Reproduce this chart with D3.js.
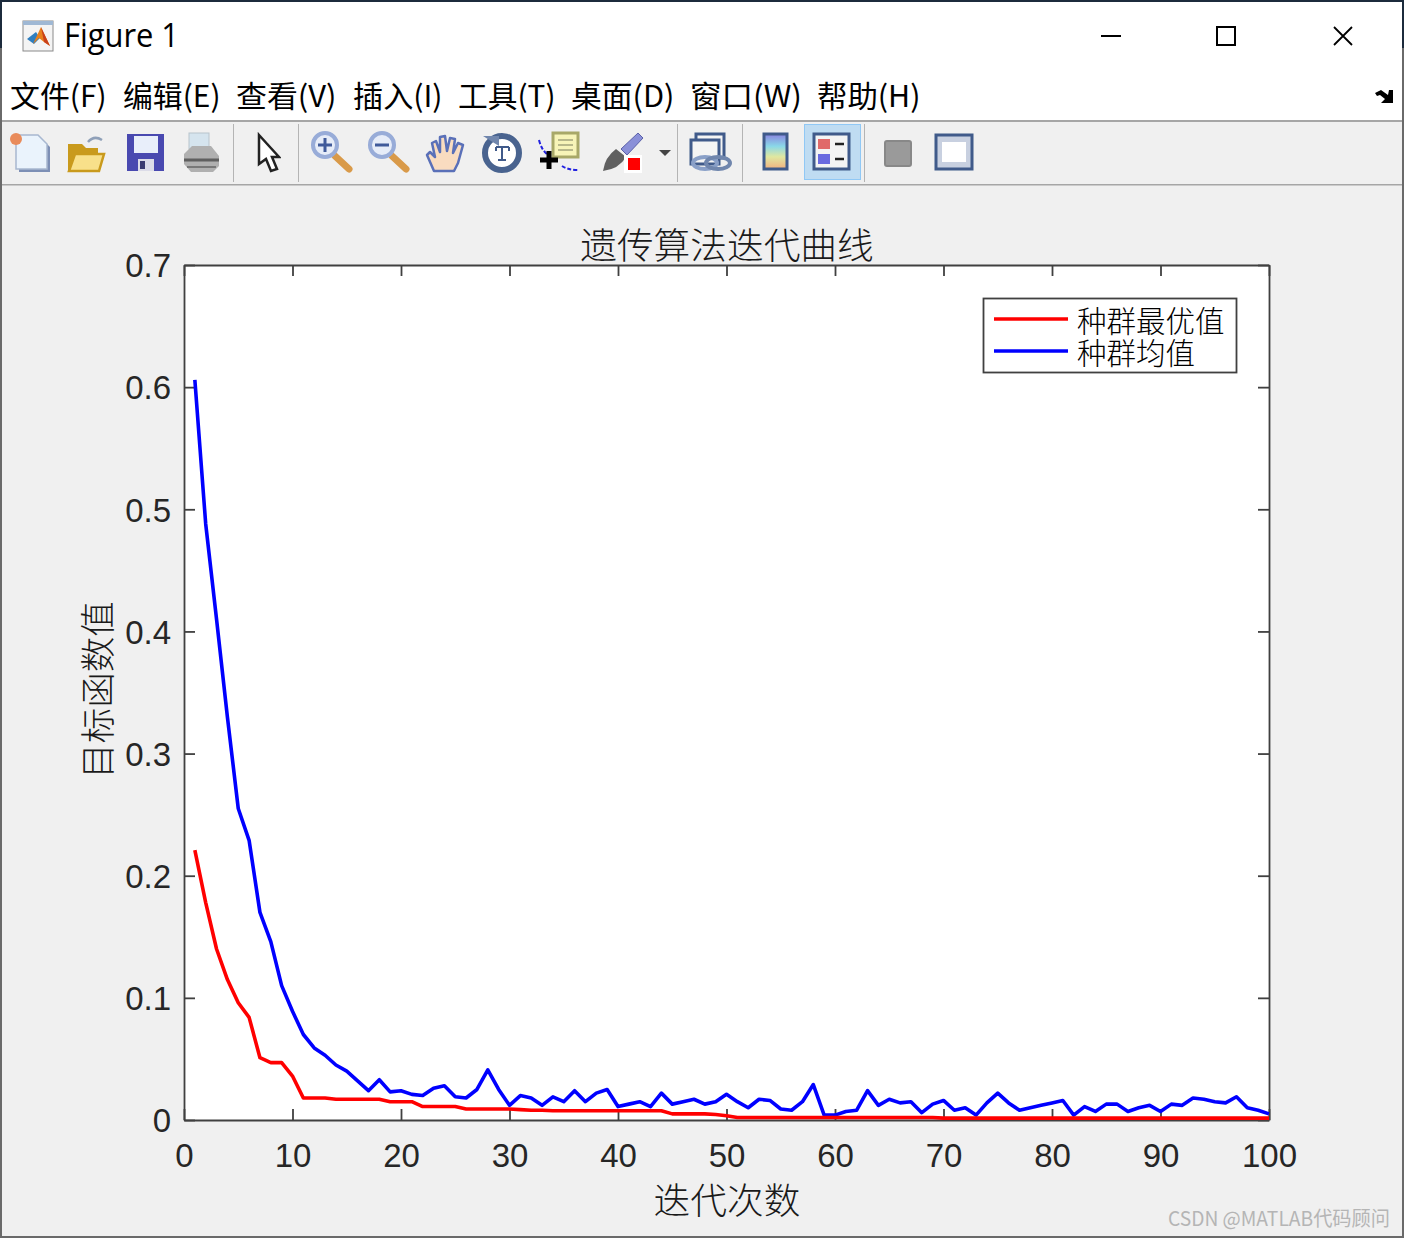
<!DOCTYPE html>
<html>
<head>
<meta charset="utf-8">
<script src="https://cdn.jsdelivr.net/npm/d3@7"></script>
<style>
  html, body { margin: 0; padding: 0; background: #fff; }
  svg { display: block; }
  .cjk { font-family: "Noto Sans CJK SC", sans-serif; }
  .axis text { font-family: "Liberation Sans", Arial, sans-serif; font-size: 33px; fill: #262626; }
</style>
</head>
<body>
<div id="chart"></div>
<script>
// data
const iterations = d3.range(1, 101);
const bestValues = [
  0.221, 0.178, 0.140, 0.115, 0.096, 0.084, 0.051, 0.047, 0.047, 0.036,
  0.018, 0.018, 0.018, 0.017, 0.017, 0.017, 0.017, 0.017, 0.015, 0.015,
  0.015, 0.011, 0.011, 0.011, 0.011, 0.009, 0.009, 0.009, 0.009, 0.009,
  0.0085, 0.008, 0.008, 0.0076, 0.0076, 0.0076, 0.0076, 0.0076, 0.0076, 0.0076,
  0.0076, 0.0076, 0.0076, 0.0076, 0.005, 0.005, 0.005, 0.005, 0.0045, 0.0035,
  0.002, 0.002, 0.002, 0.002, 0.002, 0.002, 0.002, 0.002, 0.002, 0.002,
  0.002, 0.002, 0.002, 0.002, 0.002, 0.002, 0.002, 0.002, 0.002, 0.0015,
  0.0015, 0.0015, 0.0015, 0.0015, 0.0015, 0.0015, 0.0015, 0.0015, 0.0015, 0.0015,
  0.0015, 0.0015, 0.0015, 0.0015, 0.0015, 0.0015, 0.0015, 0.0015, 0.0015, 0.0015,
  0.0015, 0.0015, 0.0015, 0.0015, 0.0015, 0.0015, 0.0015, 0.0015, 0.0015, 0.0015
];
const meanValues = [
  0.606, 0.488, 0.410, 0.330, 0.255, 0.229, 0.170, 0.146, 0.110, 0.089,
  0.070, 0.059, 0.053, 0.045, 0.040, 0.032, 0.024, 0.033, 0.023, 0.024,
  0.021, 0.020, 0.026, 0.028, 0.019, 0.018, 0.025, 0.041, 0.025, 0.012,
  0.020, 0.018, 0.012, 0.019, 0.015, 0.024, 0.015, 0.022, 0.025, 0.011,
  0.013, 0.015, 0.011, 0.022, 0.013, 0.015, 0.017, 0.013, 0.015, 0.021,
  0.015, 0.010, 0.017, 0.016, 0.009, 0.008, 0.015, 0.029, 0.004, 0.004,
  0.007, 0.008, 0.024, 0.012, 0.017, 0.014, 0.015, 0.006, 0.013, 0.016,
  0.008, 0.010, 0.004, 0.014, 0.022, 0.014, 0.008, 0.010, 0.012, 0.014,
  0.016, 0.004, 0.011, 0.007, 0.013, 0.013, 0.007, 0.010, 0.012, 0.007,
  0.013, 0.012, 0.018, 0.017, 0.015, 0.014, 0.019, 0.010, 0.008, 0.005
];
const xTicks = d3.range(0, 101, 10);
const yTicks = [0, 0.1, 0.2, 0.3, 0.4, 0.5, 0.6, 0.7];
const legendLabels = ["种群最优值", "种群均值"];
const seriesColors = ["#ff0000", "#0000ff"];
const menuLabels = ["文件(F)", "编辑(E)", "查看(V)", "插入(I)", "工具(T)", "桌面(D)", "窗口(W)", "帮助(H)"];
const menuStarts = [10, 123, 236, 353, 458, 571, 690, 817];
const menuWidths = [96.5, 97.5, 100.5, 89.5, 97.5, 103.5, 112, 103.5];

const svg = d3.select("#chart").append("svg").attr("width", 1404).attr("height", 1238);

// soft edge for the toolbar bitmaps
svg.append("defs").append("filter").attr("id", "soft")
  .attr("x", "-10%").attr("y", "-10%").attr("width", "120%").attr("height", "120%")
  .append("feGaussianBlur").attr("stdDeviation", 0.6);

// window chrome
svg.append("rect").attr("width", 1404).attr("height", 1238).attr("fill", "#f0f0f0");
svg.append("rect").attr("width", 1404).attr("height", 120).attr("fill", "#fff");
svg.append("rect").attr("y", 120).attr("width", 1404).attr("height", 2).attr("fill", "#a6a6a6");
svg.append("rect").attr("y", 184).attr("width", 1404).attr("height", 1.5).attr("fill", "#a6a6a6");
svg.append("rect").attr("width", 1404).attr("height", 2).attr("fill", "#1c2b3c");
svg.append("rect").attr("y", 48).attr("width", 2).attr("height", 1190).attr("fill", "#6a6a6a");
svg.append("rect").attr("width", 2).attr("height", 48).attr("fill", "#1c2b3c");
svg.append("rect").attr("x", 1402).attr("y", 48).attr("width", 2).attr("height", 1190).attr("fill", "#6a6a6a");
svg.append("rect").attr("x", 1402).attr("width", 2).attr("height", 48).attr("fill", "#1c2b3c");
svg.append("rect").attr("y", 1236).attr("width", 1404).attr("height", 2).attr("fill", "#6a6a6a");

// title bar
const logo = svg.append("g").attr("transform", "translate(23,21)");
logo.append("rect").attr("width", 30).attr("height", 30).attr("fill", "#f4f4f4").attr("stroke", "#8a8a8a");
logo.append("rect").attr("width", 30).attr("height", 4).attr("fill", "#9fb8d4");
logo.append("path").attr("d", "M4,18 L13,11 L17,17 L11,23 Z").attr("fill", "#2f7fc0");
logo.append("path").attr("d", "M10,23 L18,6 L27,25 L21,21 L16,17 Z").attr("fill", "#e8801c");
logo.append("path").attr("d", "M18,6 L27,25 L21,21 Z").attr("fill", "#c9401a");

svg.append("text").attr("x", 64).attr("y", 47)
  .attr("font-family", "'Open Sans', sans-serif").attr("font-size", 32)
  .attr("textLength", 115).attr("lengthAdjust", "spacingAndGlyphs")
  .attr("fill", "#000").text("Figure 1");

svg.append("rect").attr("x", 1101).attr("y", 35).attr("width", 20).attr("height", 2).attr("fill", "#000");
svg.append("rect").attr("x", 1217).attr("y", 27).attr("width", 18).attr("height", 18)
  .attr("fill", "none").attr("stroke", "#000").attr("stroke-width", 2);
svg.append("path").attr("d", "M1334,27 L1352,45 M1352,27 L1334,45").attr("stroke", "#000").attr("stroke-width", 1.8);

// menu bar
svg.append("g").selectAll("text").data(menuLabels).join("text")
  .attr("class", "cjk")
  .attr("x", (d, i) => menuStarts[i]).attr("y", 107)
  .attr("font-size", 30)
  .attr("textLength", (d, i) => menuWidths[i]).attr("lengthAdjust", "spacingAndGlyphs")
  .attr("fill", "#000").text(d => d);
svg.append("path").attr("d", "M1375,93 L1381,90 L1388,95 L1389,90 L1393,90 L1393,103 L1381,103 L1385,99 L1380,95 L1377,96 Z").attr("fill", "#000");

// toolbar separators and the pressed legend button
[233, 298, 677, 742, 864].forEach(x => {
  svg.append("rect").attr("x", x).attr("y", 124).attr("width", 1).attr("height", 58).attr("fill", "#b4b4b4");
});
svg.append("rect").attr("x", 804.5).attr("y", 124.5).attr("width", 56).attr("height", 55)
  .attr("fill", "#bfdcf2").attr("stroke", "#90c8f5");

const icon = (x, y) => svg.append("g").attr("transform", `translate(${x},${y})`).attr("filter", "url(#soft)");
const magnifier = (x, sign) => {
  const g = icon(x, 132);
  g.append("path").attr("d", "M24,24 L38,37").attr("stroke", "#d99a4a").attr("stroke-width", 7).attr("stroke-linecap", "round");
  g.append("circle").attr("cx", 14).attr("cy", 13).attr("r", 12).attr("fill", "#e6ecf8").attr("stroke", "#98acd8").attr("stroke-width", 4);
  g.append("path").attr("d", sign === "+" ? "M7,13 H21 M14,6 V20" : "M7,13 H21").attr("stroke", "#3f5a9a").attr("stroke-width", 3);
};

// new
let g = icon(10, 132);
g.append("path").attr("d", "M9,6 H31 L40,15 V40 H9 Z").attr("fill", "#7d8fb5");
g.append("path").attr("d", "M6,3 H28 L37,12 V37 H6 Z").attr("fill", "#eaf3fc").attr("stroke", "#a8b8d0").attr("stroke-width", 1.5);
g.append("circle").attr("cx", 6).attr("cy", 7).attr("r", 6).attr("fill", "#e98b5a");
// open
g = icon(66, 134);
g.append("path").attr("d", "M2,10 H16 L20,14 H32 V37 H2 Z").attr("fill", "#c99a1e");
g.append("path").attr("d", "M3,37 L9,20 H38 L33,37 Z").attr("fill", "#f8e08a").attr("stroke", "#c99a1e").attr("stroke-width", 2.5);
g.append("path").attr("d", "M22,8 Q28,1 36,6").attr("fill", "none").attr("stroke", "#8fa0b8").attr("stroke-width", 2.5);
// save
g = icon(127, 134);
g.append("rect").attr("width", 37).attr("height", 37).attr("fill", "#4a4ab0");
g.append("rect").attr("x", 7).attr("y", 2).attr("width", 24).attr("height", 17).attr("fill", "#e8eefa");
g.append("rect").attr("x", 11).attr("y", 25).attr("width", 16).attr("height", 12).attr("fill", "#dcdce8");
g.append("rect").attr("x", 13).attr("y", 27).attr("width", 5).attr("height", 8).attr("fill", "#3a3a70");
// print
g = icon(183, 132);
g.append("rect").attr("x", 6).attr("y", 1).attr("width", 20).attr("height", 16).attr("fill", "#d5e4ee").attr("stroke", "#b8c4cc");
g.append("path").attr("d", "M1,22 L9,14 H28 L36,24 V34 L30,40 H8 L1,32 Z").attr("fill", "#b0b0b0");
g.append("path").attr("d", "M1,28 H36").attr("stroke", "#5e5e5e").attr("stroke-width", 3);
g.append("path").attr("d", "M4,35 H33").attr("stroke", "#787878").attr("stroke-width", 2);
// pointer
g = icon(258, 134);
g.append("path").attr("d", "M1,1 L21,23 L14,23 L19,35 L13,37 L8,25 L1,30 Z").attr("fill", "#fff").attr("stroke", "#222").attr("stroke-width", 2.5);
// zoom in and out
magnifier(311, "+");
magnifier(368, "-");
// pan
g = icon(425, 133);
g.append("path").attr("d", "M9,38 L2,22 L5,19 L10,24 L7,10 L11,8 L15,19 L15,4 L20,3 L22,18 L25,5 L30,6 L28,20 L33,10 L38,12 L33,30 L29,38 Z")
  .attr("fill", "#f9dcc0").attr("stroke", "#5a70b8").attr("stroke-width", 2.5).attr("stroke-linejoin", "round");
// rotate
g = icon(482, 132);
g.append("circle").attr("cx", 20).attr("cy", 21).attr("r", 17).attr("fill", "#fff").attr("stroke", "#4a648f").attr("stroke-width", 6);
g.append("path").attr("d", "M1,4 H17 V14 Z").attr("fill", "#6f86ad");
g.append("path").attr("d", "M14,15 H27 M20,15 V28 M14,15 V19 M27,15 V19 M16,28 H24").attr("fill", "none").attr("stroke", "#3f5a8a").attr("stroke-width", 2);
// data cursor
g = icon(538, 132);
g.append("rect").attr("x", 15).attr("y", 1).attr("width", 25).attr("height", 24).attr("fill", "#f7f4b8").attr("stroke", "#a8a868").attr("stroke-width", 3);
g.append("path").attr("d", "M20,8 H35 M20,13 H35 M20,18 H35").attr("stroke", "#b8b88a").attr("stroke-width", 2);
g.append("path").attr("d", "M1,8 Q4,20 12,24 M24,34 Q30,38 40,38").attr("fill", "none").attr("stroke", "#2020e0").attr("stroke-width", 2).attr("stroke-dasharray", "4 2");
g.append("path").attr("d", "M2,28 H20 M11,19 V37").attr("stroke", "#000").attr("stroke-width", 5);
// brush
g = icon(601, 131);
g.append("path").attr("d", "M20,18 L37,2 L42,7 L26,24 Z").attr("fill", "#8a90d8").attr("stroke", "#5a60a8");
g.append("path").attr("d", "M2,40 Q4,26 15,18 L25,26 Q18,38 2,40 Z").attr("fill", "#606060");
g.append("rect").attr("x", 23).attr("y", 24).attr("width", 18).attr("height", 18).attr("fill", "#fff");
g.append("rect").attr("x", 27).attr("y", 27).attr("width", 12).attr("height", 12).attr("fill", "#ff0000");
svg.append("path").attr("d", "M659,150 H671 L665,156 Z").attr("fill", "#444");
// link plot
g = icon(690, 132);
g.append("rect").attr("x", 6).attr("y", 2).attr("width", 28).attr("height", 24).attr("fill", "#f4f4f4").attr("stroke", "#3f5a8a").attr("stroke-width", 3);
g.append("rect").attr("x", 1).attr("y", 8).attr("width", 28).attr("height", 24).attr("fill", "#f4f4f4").attr("stroke", "#3f5a8a").attr("stroke-width", 3);
g.append("ellipse").attr("cx", 15).attr("cy", 31).attr("rx", 12).attr("ry", 6).attr("fill", "none").attr("stroke", "#8aa0c8").attr("stroke-width", 4);
g.append("ellipse").attr("cx", 28).attr("cy", 31).attr("rx", 12).attr("ry", 6).attr("fill", "none").attr("stroke", "#6f86ad").attr("stroke-width", 4);
// colorbar
const grad = svg.select("defs").append("linearGradient").attr("id", "cbar")
  .attr("x1", 0).attr("y1", 0).attr("x2", 0).attr("y2", 1);
[["0%", "#8a82e0"], ["35%", "#8ad8e8"], ["65%", "#e0e8a0"], ["100%", "#f0b080"]].forEach(s => {
  grad.append("stop").attr("offset", s[0]).attr("stop-color", s[1]);
});
svg.append("rect").attr("x", 764).attr("y", 134).attr("width", 23).attr("height", 35)
  .attr("fill", "url(#cbar)").attr("stroke", "#3f5a8a").attr("stroke-width", 3);
// legend button
g = icon(813, 133);
g.append("rect").attr("x", 1).attr("y", 1).attr("width", 35).attr("height", 35).attr("fill", "#f4f4f4").attr("stroke", "#3f5a8a").attr("stroke-width", 3);
g.append("rect").attr("x", 5).attr("y", 6).attr("width", 12).attr("height", 10).attr("fill", "#e06a6a");
g.append("rect").attr("x", 5).attr("y", 21).attr("width", 12).attr("height", 10).attr("fill", "#6a6ae0");
g.append("path").attr("d", "M22,11 H31 M22,26 H31").attr("stroke", "#222").attr("stroke-width", 2.5);
// hide plot tools, show plot tools
g = icon(885, 141);
g.append("rect").attr("width", 26).attr("height", 25).attr("rx", 2).attr("fill", "#9a9a9a").attr("stroke", "#888").attr("stroke-width", 2);
g = icon(935, 134);
g.append("rect").attr("x", 1).attr("y", 1).attr("width", 36).attr("height", 34).attr("fill", "#c8d0e0").attr("stroke", "#3f5a8a").attr("stroke-width", 3);
g.append("rect").attr("x", 7).attr("y", 8).attr("width", 24).attr("height", 20).attr("fill", "#fff");

// plot area, d3 axes sit half a pixel past these numbers
const margin = { left: 184, top: 265, right: 1269, bottom: 1120 };
const x = d3.scaleLinear().domain([0, 100]).range([margin.left, margin.right]);
const y = d3.scaleLinear().domain([0, 0.7]).range([margin.bottom, margin.top]);
const axisColor = "#404040";

svg.append("rect")
  .attr("x", margin.left).attr("y", margin.top)
  .attr("width", margin.right - margin.left).attr("height", margin.bottom - margin.top)
  .attr("fill", "#fff");

const styleAxis = sel => {
  sel.classed("axis", true);
  sel.selectAll("path, line").attr("stroke", axisColor).attr("stroke-width", 1.8);
};
const yFormat = d => d === 0 ? "0" : d3.format(".1f")(d);

svg.append("g").attr("transform", `translate(0,${margin.bottom})`)
  .call(d3.axisBottom(x).tickValues(xTicks).tickSize(-11).tickSizeOuter(0).tickPadding(24).tickFormat(d3.format("d")))
  .call(styleAxis);
svg.append("g").attr("transform", `translate(${margin.left},0)`)
  .call(d3.axisLeft(y).tickValues(yTicks).tickSize(-11).tickSizeOuter(0).tickPadding(13).tickFormat(yFormat))
  .call(styleAxis)
  .call(sel => sel.selectAll("text").attr("dy", "0.355em"));
svg.append("g").attr("transform", `translate(0,${margin.top})`)
  .call(d3.axisTop(x).tickValues(xTicks).tickSize(-11).tickSizeOuter(0).tickFormat(""))
  .call(styleAxis);
svg.append("g").attr("transform", `translate(${margin.right},0)`)
  .call(d3.axisRight(y).tickValues(yTicks).tickSize(-11).tickSizeOuter(0).tickFormat(""))
  .call(styleAxis);

// the two curves
const line = d3.line().x((d, i) => x(iterations[i])).y(d => y(d));
[meanValues, bestValues].forEach((values, i) => {
  svg.append("path").datum(values)
    .attr("d", line)
    .attr("fill", "none")
    .attr("stroke", seriesColors[1 - i])
    .attr("stroke-width", 3.6)
    .attr("stroke-linejoin", "round");
});

// titles
const labelFill = "#1a1a1a";
svg.append("text").attr("class", "cjk")
  .attr("x", 727).attr("y", 259).attr("text-anchor", "middle")
  .attr("font-size", 36.7).attr("font-weight", 300).attr("fill", labelFill)
  .text("遗传算法迭代曲线");
svg.append("text").attr("class", "cjk")
  .attr("x", 727).attr("y", 1214).attr("text-anchor", "middle")
  .attr("font-size", 36.7).attr("font-weight", 300).attr("fill", labelFill)
  .text("迭代次数");
svg.append("text").attr("class", "cjk")
  .attr("transform", "translate(111,690) rotate(-90)").attr("text-anchor", "middle")
  .attr("font-size", 35.5).attr("font-weight", 300).attr("fill", labelFill)
  .text("目标函数值");

// legend
svg.append("rect").attr("x", 983.5).attr("y", 298.5).attr("width", 253).attr("height", 74)
  .attr("fill", "#fff").attr("stroke", axisColor).attr("stroke-width", 1.8);
const legendRow = svg.append("g").selectAll("g").data(legendLabels).join("g")
  .attr("transform", (d, i) => `translate(0,${319 + i * 32})`);
legendRow.append("line")
  .attr("x1", 994).attr("x2", 1068)
  .attr("stroke", (d, i) => seriesColors[i]).attr("stroke-width", 3.4);
legendRow.append("text").attr("class", "cjk")
  .attr("x", 1077).attr("y", 13)
  .attr("font-size", 29.5).attr("font-weight", 300).attr("fill", "#000")
  .text(d => d);

// watermark
svg.append("text").attr("class", "cjk")
  .attr("x", 1168).attr("y", 1226)
  .attr("font-size", 20).attr("textLength", 222).attr("lengthAdjust", "spacingAndGlyphs")
  .attr("fill", "#b5b5b5").text("CSDN @MATLAB代码顾问");
</script>
</body>
</html>
